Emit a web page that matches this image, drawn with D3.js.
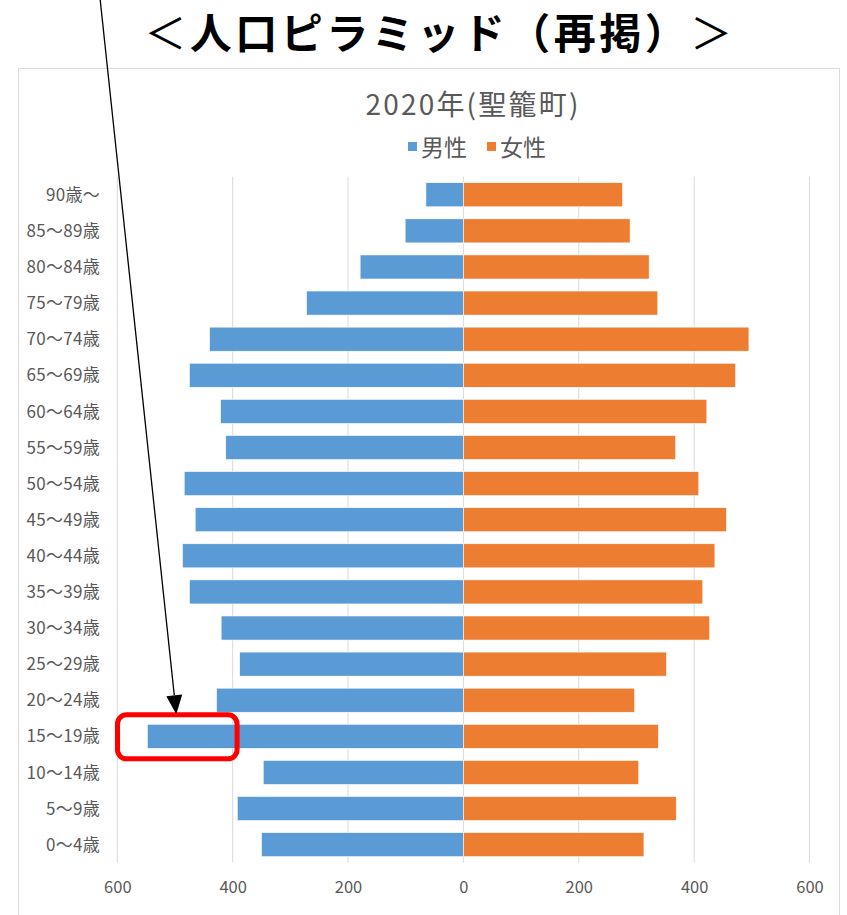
<!DOCTYPE html>
<html>
<head>
<meta charset="utf-8">
<script src="https://cdn.jsdelivr.net/npm/d3@7"></script>
<style>
html,body{margin:0;padding:0;background:#fff;}
svg{display:block;}
text{font-family:"Noto Sans CJK JP","Noto Sans",sans-serif;}
</style>
</head>
<body>
<script>
const pageTitle = ["＜", "人口ピラミッド（再掲）", "＞"];
const chartTitle = "2020年(聖籠町)";
const seriesNames = ["男性", "女性"];
const ageGroups = ["90歳〜","85〜89歳","80〜84歳","75〜79歳","70〜74歳","65〜69歳","60〜64歳","55〜59歳","50〜54歳","45〜49歳","40〜44歳","35〜39歳","30〜34歳","25〜29歳","20〜24歳","15〜19歳","10〜14歳","5〜9歳","0〜4歳"];
const male =   [65,101,179,272,440,475,421,412,484,465,487,475,420,388,428,548,347,392,350];
const female = [276,289,322,337,495,472,422,368,408,456,436,415,427,352,297,338,304,369,313];
const tickValues = [-600,-400,-200,0,200,400,600];
const highlightGroup = "15〜19歳";

const W = 847, H = 915;
const colors = {male:"#5b9bd5", female:"#ed7d31", grid:"#d9d9d9", text:"#595959"};

const svg = d3.select("body").append("svg").attr("width", W).attr("height", H);

// page title
const t = svg.append("text").attr("x", 440).attr("y", 49).attr("text-anchor","middle")
  .attr("font-size", 42).attr("letter-spacing", 3.5).attr("fill","#000");
t.append("tspan").attr("font-weight", 400).text(pageTitle[0]);
t.append("tspan").attr("font-weight", 700).text(pageTitle[1]);
t.append("tspan").attr("font-weight", 400).text(pageTitle[2]);

// chart frame
svg.append("rect").attr("x", 18.5).attr("y", 68.5).attr("width", 821).attr("height", 860)
  .attr("fill","#fff").attr("stroke", colors.grid).attr("stroke-width",1);

// chart title
svg.append("text").attr("x", 473).attr("y", 115).attr("text-anchor","middle")
  .attr("font-size", 28).attr("letter-spacing", 2.2).attr("fill", colors.text).text(chartTitle);

// legend
const legend = svg.append("g");
const legItems = [{name:seriesNames[0], c:colors.male, x:408},{name:seriesNames[1], c:colors.female, x:487}];
legItems.forEach(it=>{
  legend.append("rect").attr("x", it.x).attr("y", 142).attr("width", 9).attr("height", 9).attr("fill", it.c);
  legend.append("text").attr("x", it.x + 13).attr("y", 156).attr("font-size", 23).attr("fill", colors.text).text(it.name);
});

// scales
const x = d3.scaleLinear().domain([-600, 600]).range([117.3, 809.5]);
const y = d3.scaleBand().domain(ageGroups).range([176.7, 862.7]).paddingInner(0.333).paddingOuter(0.1665);

// gridlines
svg.append("g").selectAll("line").data(tickValues).join("line")
  .attr("x1", d=>x(d)).attr("x2", d=>x(d)).attr("y1", 176.7).attr("y2", 862.7)
  .attr("stroke", colors.grid).attr("stroke-width", 1);

// bars
const rows = ageGroups.map((g,i)=>({g, m:male[i], f:female[i]}));
svg.append("g").selectAll("rect").data(rows).join("rect")
  .attr("x", d=>x(-d.m)).attr("width", d=>x(0)-x(-d.m))
  .attr("y", d=>y(d.g)).attr("height", y.bandwidth())
  .attr("fill", colors.male).attr("stroke","#fff").attr("stroke-width",0.6);
svg.append("g").selectAll("rect").data(rows).join("rect")
  .attr("x", x(0)).attr("width", d=>x(d.f)-x(0))
  .attr("y", d=>y(d.g)).attr("height", y.bandwidth())
  .attr("fill", colors.female).attr("stroke","#fff").attr("stroke-width",0.6);

// y labels
svg.append("g").selectAll("text").data(ageGroups).join("text")
  .attr("x", 100).attr("y", d=>y(d)+y.bandwidth()/2).attr("dy","0.36em")
  .attr("text-anchor","end").attr("font-size", 17).attr("letter-spacing", 0.3).attr("fill", colors.text).text(d=>d);

// x tick labels
const xAxis = d3.axisBottom(x).tickValues(tickValues).tickFormat(d=>Math.abs(d)).tickSize(0).tickPadding(0);
const ax = svg.append("g").attr("transform","translate(0,881)").call(xAxis);
ax.select(".domain").remove();
ax.selectAll("text").attr("font-size",16.5).attr("fill",colors.text)
  .attr("font-family",'"Noto Sans CJK JP","Noto Sans",sans-serif');

// annotation: red rounded box + arrow
const hy = y(highlightGroup);
const bx0 = x(-600) + 0.2, bx1 = x(-400) + 4.4;
const by0 = hy - 9.5, by1 = hy + y.bandwidth() + 10.5;
svg.append("rect").attr("x", bx0).attr("y", by0).attr("width", bx1-bx0).attr("height", by1-by0)
  .attr("rx", 9).attr("ry", 9).attr("fill","none").attr("stroke","#f00").attr("stroke-width",5);

const tipX = x(-600) + 59, tipY = by0 - 0.5;
const startX = 100, startY = -2;
const ang = Math.atan2(tipY-startY, tipX-startX);
const headLen = 19, headW = 8;
const baseX = tipX - headLen*Math.cos(ang), baseY = tipY - headLen*Math.sin(ang);
svg.append("line").attr("x1", startX).attr("y1", startY).attr("x2", baseX).attr("y2", baseY)
  .attr("stroke","#000").attr("stroke-width",1.3);
const px = -Math.sin(ang), py = Math.cos(ang);
svg.append("path").attr("d", `M${tipX},${tipY} L${baseX+px*headW},${baseY+py*headW} L${baseX-px*headW},${baseY-py*headW} Z`)
  .attr("fill","#000");
</script>
</body>
</html>
